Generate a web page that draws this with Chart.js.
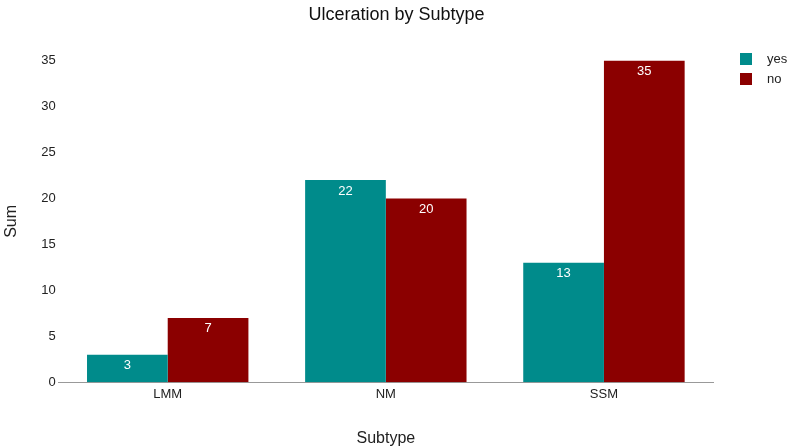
<!DOCTYPE html>
<html>
<head>
<meta charset="utf-8">
<script src="https://cdn.jsdelivr.net/npm/chart.js@4/dist/chart.umd.min.js"></script>
<style>
  html, body { margin: 0; padding: 0; background: #fff; }
  #wrap { width: 791px; height: 448px; }
</style>
</head>
<body>
<div id="wrap"><canvas id="app" width="791" height="448"></canvas></div>
<script>
// data
const subtypes = ['LMM', 'NM', 'SSM'];
const yesValues = [3, 22, 13];
const noValues = [7, 20, 35];
const yTicks = [0, 5, 10, 15, 20, 25, 30, 35];

const FONT = "'Liberation Sans', Arial, sans-serif";

// white value labels inside the top of each bar
const barLabels = {
  id: 'barLabels',
  afterDatasetsDraw(chart) {
    const ctx = chart.ctx;
    ctx.save();
    ctx.fillStyle = '#fff';
    ctx.font = '13px ' + FONT;
    ctx.textAlign = 'center';
    ctx.textBaseline = 'middle';
    chart.data.datasets.forEach((ds, i) => {
      chart.getDatasetMeta(i).data.forEach((bar, j) => {
        ctx.fillText(String(ds.data[j]), bar.x, bar.y + 11);
      });
    });
    ctx.restore();
  }
};

// legend on the right, drawn from the datasets (built-in one won't sit where the original does)
const sideLegend = {
  id: 'sideLegend',
  afterDraw(chart) {
    const ctx = chart.ctx;
    const x = chart.chartArea.right + 27;
    let y = 53;
    ctx.save();
    ctx.font = '13px ' + FONT;
    ctx.textBaseline = 'middle';
    chart.data.datasets.forEach((ds) => {
      ctx.fillStyle = ds.backgroundColor;
      ctx.fillRect(x, y, 12, 12);
      ctx.fillStyle = '#222';
      ctx.fillText(ds.label, x + 27, y + 6);
      y += 20;
    });
    ctx.restore();
  }
};

new Chart(document.getElementById('app'), {
  type: 'bar',
  data: {
    labels: subtypes,
    datasets: [
      { label: 'yes', data: yesValues, backgroundColor: '#008B8B' },
      { label: 'no', data: noValues, backgroundColor: '#8B0000' }
    ]
  },
  options: {
    responsive: false,
    animation: false,
    maintainAspectRatio: false,
    categoryPercentage: 0.74,
    barPercentage: 1,
    layout: { padding: { top: 2, right: 0, bottom: 0, left: 2 } },
    plugins: {
      title: {
        display: true,
        text: 'Ulceration by Subtype',
        color: '#111',
        font: { family: FONT, size: 18, weight: 'normal' },
        padding: { top: 2, bottom: 35 }
      },
      legend: { display: false },
      tooltip: { enabled: false }
    },
    scales: {
      x: {
        grid: { display: true, drawOnChartArea: false, drawTicks: false, color: '#999' },
        border: { display: true, color: '#999' },
        ticks: { color: '#222', font: { family: FONT, size: 13 }, padding: 4 },
        title: {
          display: true,
          text: 'Subtype',
          color: '#222',
          font: { family: FONT, size: 16 },
          padding: { top: 23, bottom: 0 }
        }
      },
      y: {
        min: 0,
        max: 35,
        afterBuildTicks: (axis) => { axis.ticks = yTicks.map(v => ({ value: v })); },
        grid: { display: false, drawTicks: false },
        border: { display: false },
        ticks: { color: '#222', font: { family: FONT, size: 13 }, padding: 3 },
        title: {
          display: true,
          text: 'Sum',
          color: '#222',
          font: { family: FONT, size: 16 },
          padding: { top: 0, bottom: 17 }
        }
      },
      // empty axis that only reserves room for the legend on the right
      legendSpace: {
        type: 'linear',
        position: 'right',
        display: true,
        grid: { display: false },
        border: { display: false },
        ticks: { display: false },
        afterFit: (axis) => { axis.width = 78; }
      }
    }
  },
  plugins: [barLabels, sideLegend]
});
</script>
</body>
</html>
